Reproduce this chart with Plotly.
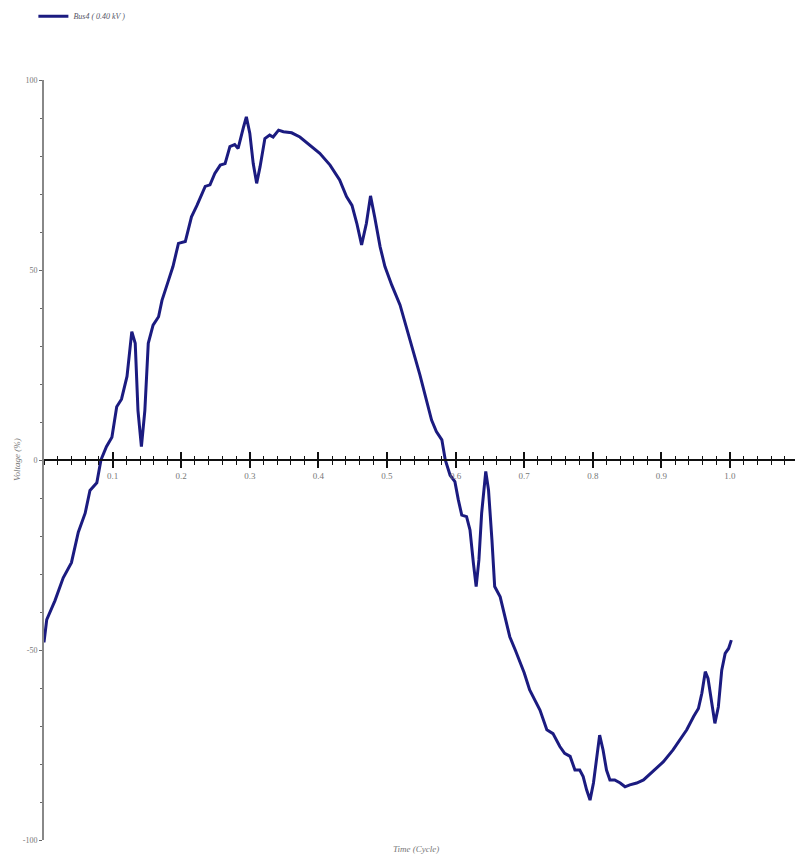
import plotly.graph_objects as go

# ---- data ----
time_cycle = [
    0.000, 0.004, 0.016, 0.028, 0.040, 0.050, 0.060, 0.067, 0.077, 0.083,
    0.091, 0.099, 0.106, 0.113, 0.121, 0.128, 0.133, 0.137, 0.142, 0.147,
    0.152, 0.159, 0.167, 0.172, 0.181, 0.188, 0.196, 0.206, 0.215, 0.223,
    0.235, 0.242, 0.249, 0.257, 0.264, 0.271, 0.278, 0.283, 0.291, 0.295,
    0.300, 0.305, 0.310, 0.315, 0.322, 0.329, 0.334, 0.342, 0.349, 0.361,
    0.373, 0.388, 0.402, 0.417, 0.431, 0.441, 0.449, 0.456, 0.463, 0.470,
    0.476, 0.482, 0.490, 0.497, 0.507, 0.519, 0.534, 0.548, 0.565, 0.572,
    0.580, 0.585, 0.592, 0.599, 0.604, 0.609, 0.616, 0.621, 0.626, 0.630,
    0.634, 0.638, 0.644, 0.648, 0.653, 0.657, 0.665, 0.672, 0.679, 0.687,
    0.700, 0.708, 0.723, 0.733, 0.742, 0.752, 0.759, 0.767, 0.774, 0.781,
    0.786, 0.791, 0.796, 0.801, 0.806, 0.810, 0.815, 0.820, 0.825, 0.832,
    0.840, 0.847, 0.854, 0.864, 0.874, 0.888, 0.903, 0.917, 0.927, 0.937,
    0.947, 0.954, 0.959, 0.964, 0.968, 0.973, 0.978, 0.983, 0.988, 0.993,
    0.998, 1.002,
]
voltage_pct = [
    -48.0, -42.0, -37.0, -31.0, -27.0, -19.0, -14.0, -8.0, -6.0, 0.0,
    3.5, 6.0, 14.0, 16.0, 22.0, 33.8, 30.7, 13.0, 3.5, 13.0,
    30.7, 35.5, 37.7, 42.0, 47.0, 50.9, 57.0, 57.5, 64.0, 67.0,
    72.0, 72.4, 75.4, 77.6, 78.0, 82.5, 83.0, 82.0, 87.7, 90.3,
    86.0, 78.0, 72.8, 77.2, 84.6, 85.5, 85.0, 86.8, 86.4, 86.1,
    85.0, 82.9, 80.7, 77.6, 73.7, 69.3, 67.0, 62.3, 56.6, 62.3,
    69.5, 64.0, 56.1, 50.9, 46.0, 40.8, 31.6, 22.4, 10.5, 7.5,
    5.3, 0.0, -4.0, -5.7, -10.5, -14.5, -14.9, -18.4, -27.2, -33.3,
    -26.3, -14.0, -3.0, -7.9, -21.0, -33.3, -36.0, -41.2, -46.5, -50.0,
    -56.0, -60.5, -65.8, -71.0, -72.0, -75.4, -77.2, -78.0, -81.6, -81.6,
    -83.3, -86.8, -89.5, -85.0, -77.2, -72.4, -76.3, -81.6, -84.2, -84.2,
    -85.0, -86.0, -85.5, -85.0, -84.2, -82.0, -79.4, -76.3, -73.7, -71.0,
    -67.5, -65.4, -61.4, -55.7, -57.5, -64.0, -69.3, -65.0, -55.3, -50.9,
    -49.6, -47.4,
]
series_name = "Bus4 ( 0.40 kV )"
x_tick_vals = [0.1, 0.2, 0.3, 0.4, 0.5, 0.6, 0.7, 0.8, 0.9, 1.0]
x_tick_text = ["0.1", "0.2", "0.3", "0.4", "0.5", "0.6", "0.7", "0.8", "0.9", "1.0"]
y_tick_vals = [-100, -50, 0, 50, 100]
y_tick_text = ["-100", "-50", "0", "50", "100"]
x_title = "Time (Cycle)"
y_title = "Voltage (%)"

LINE = "#1b1b80"
SERIF = "Liberation Serif"
GRAY = "#777777"

fig = go.Figure()
fig.add_trace(go.Scatter(
    x=time_cycle, y=voltage_pct, mode="lines", name=series_name,
    line=dict(color=LINE, width=3), showlegend=True,
))
# invisible companion trace so the overlaying axis (upper half of crossing ticks) renders
fig.add_trace(go.Scatter(
    x=time_cycle, y=voltage_pct, mode="lines", xaxis="x2",
    line=dict(color="rgba(0,0,0,0)", width=0), showlegend=False, hoverinfo="skip",
))

x_range = [0, 1.0948]

fig.update_layout(
    width=795, height=856,
    margin=dict(l=44, r=0, t=80, b=16, autoexpand=False),
    paper_bgcolor="white", plot_bgcolor="white",
    showlegend=True,
    legend=dict(
        x=0.042, y=0.998, xref="container", yref="container",
        xanchor="left", yanchor="top",
        font=dict(family=SERIF, size=8, color="#556", style="italic"),
        bgcolor="rgba(0,0,0,0)", itemwidth=30,
    ),
    xaxis=dict(
        range=x_range, anchor="free", position=0.5, automargin=False,
        showgrid=False, zeroline=False,
        showline=True, linecolor="#111111", linewidth=1.5,
        tickmode="array", tickvals=x_tick_vals, ticktext=x_tick_text,
        ticks="outside", ticklen=7, tickwidth=1.5, tickcolor="#111111",
        tickfont=dict(family=SERIF, size=9, color=GRAY),
        minor=dict(dtick=0.02, tick0=0, ticks="outside", ticklen=4,
                   tickwidth=1.2, tickcolor="#111111", showgrid=False),
    ),
    xaxis2=dict(
        range=x_range, overlaying="x", anchor="free", position=0.5, automargin=False,
        showgrid=False, zeroline=False, showline=False,
        tickmode="array", tickvals=x_tick_vals, showticklabels=False,
        ticks="inside", ticklen=8, tickwidth=1.5, tickcolor="#111111",
        minor=dict(dtick=0.02, tick0=0, ticks="inside", ticklen=4,
                   tickwidth=1.2, tickcolor="#111111", showgrid=False),
    ),
    yaxis=dict(
        range=[-100, 100], showgrid=False, zeroline=False, automargin=False,
        showline=True, linecolor="#888888", linewidth=2,
        tickmode="array", tickvals=y_tick_vals, ticktext=y_tick_text,
        ticks="outside", ticklen=3, tickwidth=1.2, tickcolor="#666666",
        tickfont=dict(family=SERIF, size=8, color=GRAY),
        minor=dict(dtick=10, tick0=0, ticks="outside", ticklen=2,
                   tickwidth=1, tickcolor="#666666", showgrid=False),
    ),
)

fig.add_annotation(
    text=y_title, xref="paper", yref="paper", x=0, xshift=-27, y=0.5,
    xanchor="center", yanchor="middle", showarrow=False, textangle=-90,
    font=dict(family=SERIF, size=9, color=GRAY, style="italic"),
)
fig.add_annotation(
    text=x_title, xref="paper", yref="paper", x=0.495, y=0, yshift=-9,
    xanchor="center", yanchor="middle", showarrow=False,
    font=dict(family=SERIF, size=9, color=GRAY, style="italic"),
)

fig.write_html("out.html")
